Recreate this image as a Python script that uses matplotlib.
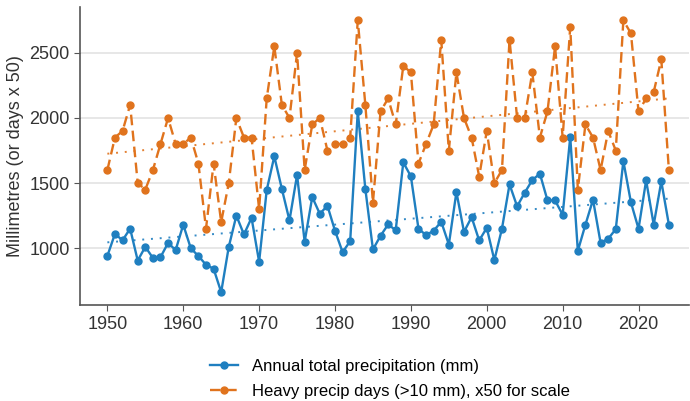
import numpy as np
import matplotlib
matplotlib.use('Agg')
import matplotlib.pyplot as plt

plt.rcParams['font.family'] = ['Liberation Sans', 'DejaVu Sans']

# Años y series
years = list(range(1950, 2025))

annual_total = [940, 1110, 1060, 1150, 905, 1010, 925, 930, 1040, 985,
                1180, 998, 940, 872, 842, 662, 1010, 1250, 1105, 1233,
                895, 1446, 1705, 1454, 1213, 1562, 1049, 1392, 1264, 1326,
                1134, 969, 1054, 2051, 1454, 990, 1095, 1182, 1138, 1659,
                1551, 1149, 1100, 1134, 1203, 1028, 1431, 1125, 1238, 1059,
                1156, 908, 1149, 1490, 1321, 1426, 1523, 1572, 1367, 1367,
                1256, 1854, 979, 1180, 1372, 1041, 1072, 1146, 1669, 1351,
                1149, 1521, 1180, 1513, 1180]

heavy_days_x50 = [1600, 1850, 1900, 2100, 1500, 1450, 1600, 1800, 2000, 1800,
                  1800, 1850, 1650, 1150, 1650, 1200, 1500, 2000, 1850, 1850,
                  1300, 2150, 2550, 2100, 2000, 2500, 1600, 1950, 2000, 1750,
                  1800, 1800, 1850, 2750, 2100, 1350, 2050, 2150, 1950, 2400,
                  2350, 1650, 1800, 1950, 2600, 1750, 2350, 2000, 1850, 1550,
                  1900, 1500, 1600, 2600, 2000, 2000, 2350, 1850, 2050, 2550,
                  1850, 2700, 1450, 1950, 1850, 1600, 1900, 1750, 2750, 2650,
                  2050, 2150, 2200, 2450, 1600]

blue = '#1f7fc0'
orange = '#e0731d'

x = np.array(years)
y1 = np.array(annual_total)
y2 = np.array(heavy_days_x50)

# Tendencias lineales
p1 = np.polyfit(x, y1, 1)
p2 = np.polyfit(x, y2, 1)

fig = plt.figure(figsize=(6.9, 4.01), dpi=100)
ax = fig.add_axes([0.116, 0.239, 0.882, 0.744])

ax.plot(x, y1, color=blue, lw=1.7, marker='o', ms=5,
        label='Annual total precipitation (mm)', zorder=3)
ax.plot(x, y2, color=orange, lw=1.7, ls=(0, (4.5, 2.3)), marker='o', ms=5,
        label='Heavy precip days (>10 mm), x50 for scale', zorder=3)
ax.plot(x, np.polyval(p1, x), color=blue, lw=1.4, ls=(0, (1, 3.5)), alpha=0.9, zorder=2)
ax.plot(x, np.polyval(p2, x), color=orange, lw=1.4, ls=(0, (1, 3.5)), alpha=0.9, zorder=2)

ax.set_xlim(1946.4, 2026.6)
ax.set_ylim(562, 2854)
ax.set_xticks(range(1950, 2021, 10))
ax.set_yticks([1000, 1500, 2000, 2500])
ax.grid(axis='y', color='#e3e3e3', lw=1.2)
ax.set_axisbelow(True)

for s in ['top', 'right']:
    ax.spines[s].set_visible(False)
for s in ['left', 'bottom']:
    ax.spines[s].set_color('#555555')
    ax.spines[s].set_linewidth(1.2)
ax.tick_params(colors='#555555', labelcolor='#333333', labelsize=13, length=4)
ax.set_ylabel('Millimetres (or days x 50)', fontsize=13, color='#333333')

fig.legend(loc='center', bbox_to_anchor=(0.565, 0.055), ncol=1, frameon=False,
           fontsize=12, handlelength=1.7, labelspacing=0.6)

fig.savefig('out.png', dpi=100)
